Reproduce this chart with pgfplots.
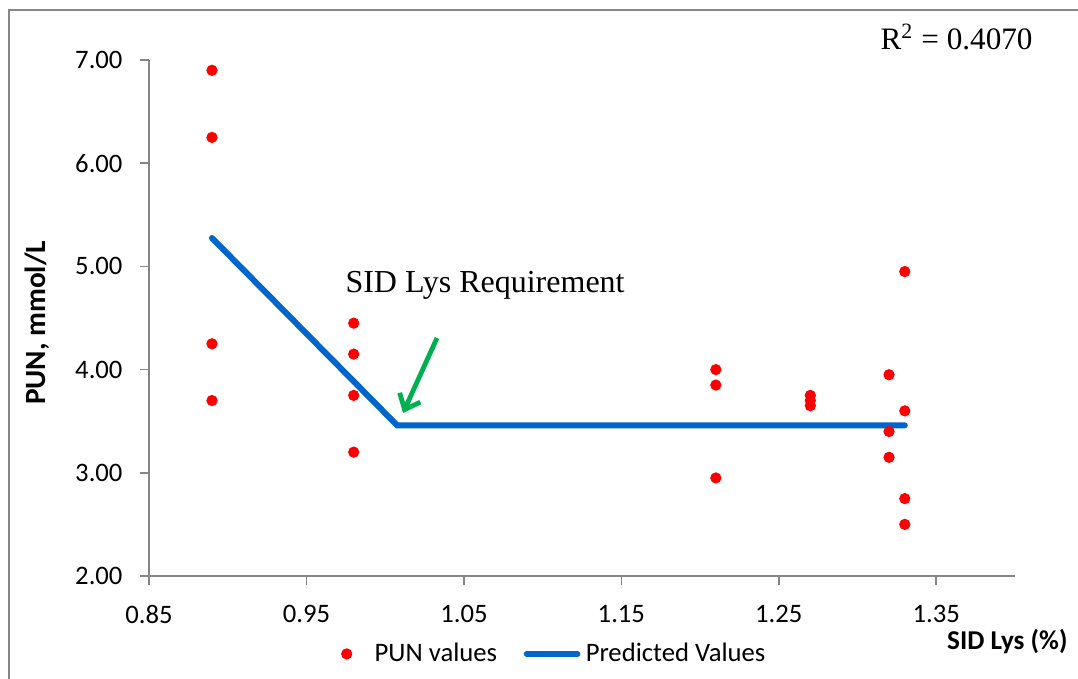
\documentclass[border=0pt]{standalone}
\usepackage{pgfplots}
\pgfplotsset{compat=1.18}
\usetikzlibrary{arrows.meta}
\usepackage{fontspec}
\setmainfont{Carlito}
\newfontfamily\timesf{Liberation Serif}
\definecolor{predblue}{RGB}{0,102,204}
\definecolor{axgrey}{RGB}{134,134,134}
\definecolor{arrgreen}{RGB}{0,176,80}
\pgfplotsset{
  linelegend/.style={legend image code/.code={\draw[##1] (0pt,0pt) -- (19pt,0pt);}},
  dotlegend/.style={legend image code/.code={\draw[##1] plot coordinates {(0pt,0pt)}; \path[draw=none,fill=none] (-2pt,0pt) -- (8.5pt,0pt);}},
}
\begin{document}
\begin{tikzpicture}[x=0.375pt,y=0.375pt,font=\fontsize{10}{12}\selectfont]
\useasboundingbox (0,0) rectangle (1078,679);
\draw[axgrey, line width=0.6pt] (9,-5) -- (9,669) -- (1085,669);
\begin{axis}[
  at={(55.875pt,38.625pt)}, anchor=south west,
  scale only axis, width=324.75pt, height=193.5pt,
  xmin=0.85, xmax=1.40, ymin=2, ymax=7,
  xtick={0.85,0.95,1.05,1.15,1.25,1.35},
  ytick={2,3,4,5,6,7},
  axis x line*=bottom, axis y line*=left,
  axis line style={-, axgrey, line width=0.6pt},
  tick align=outside, major tick length=3.4pt,
  tick style={axgrey, line width=0.6pt},
  ticklabel style={font=\fontsize{10}{12}\selectfont},
  xticklabel style={/pgf/number format/.cd, fixed, fixed zerofill, precision=2, assume math mode=true, /tikz/.cd, yshift=-4pt},
  yticklabel style={/pgf/number format/.cd, fixed, fixed zerofill, precision=2, assume math mode=true, /tikz/.cd, xshift=-3pt},
  clip=false,
  legend columns=2,
  legend style={at={(0.47,-0.151)}, anchor=center, draw=none, fill=none,
    font=\fontsize{10}{12}\selectfont,
    /tikz/every even column/.append style={column sep=8pt}},
]
\addplot[only marks, mark=*, mark size=1.9pt, draw=red, fill=red, mark options={draw=red, fill=red}, dotlegend] coordinates {
 (0.89,6.90) (0.89,6.25) (0.89,4.25) (0.89,3.70)
 (0.98,4.45) (0.98,4.15) (0.98,3.75) (0.98,3.20)
 (1.21,4.00) (1.21,3.85) (1.21,2.95)
 (1.27,3.75) (1.27,3.70) (1.27,3.65)
 (1.32,3.95) (1.32,3.40) (1.32,3.15)
 (1.33,4.95) (1.33,3.60) (1.33,2.75) (1.33,2.50)
};
\addlegendentry{PUN values}
\addplot[predblue, line width=2.25pt, line cap=round, line join=miter, linelegend] coordinates {
 (0.89,5.275) (1.0076,3.46) (1.33,3.46)
};
\addlegendentry{Predicted Values}
\end{axis}
\node[anchor=base west, font=\timesf\fontsize{11.7}{14}\selectfont, inner sep=0pt] at (880,629) {R\textsuperscript{2} = 0.4070};
\node[anchor=base west, font=\timesf\fontsize{12.0}{14}\selectfont, inner sep=0pt] at (345,386) {SID Lys Requirement};
\draw[arrgreen, line width=1.8pt, -{Straight Barb[length=5pt,width=8.5pt]}] (437,341) -- (403,266);
\node[rotate=90, font=\bfseries\fontsize{11}{13}\selectfont, inner sep=0pt] at (37,356) {PUN, mmol/L};
\node[anchor=base east, font=\bfseries\fontsize{10.2}{12}\selectfont, inner sep=0pt] at (1068,29) {SID Lys (\%)};
\end{tikzpicture}
\end{document}
